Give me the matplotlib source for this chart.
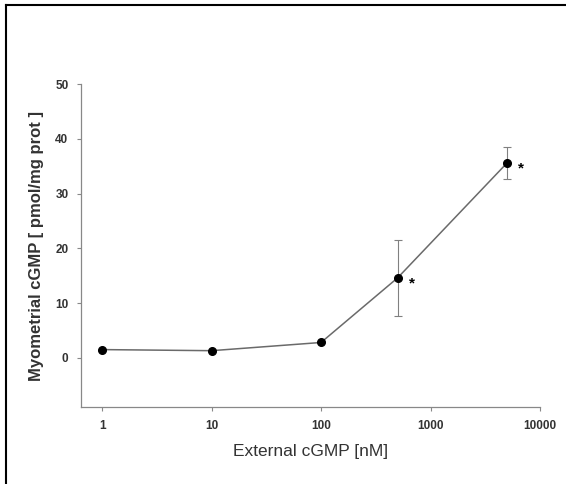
import matplotlib.pyplot as plt
from matplotlib.lines import Line2D

plt.rcParams['font.family'] = ['Liberation Sans', 'DejaVu Sans']

# data
conc = [1, 10, 100, 500, 5000]          # external cGMP [nM]
cgmp = [1.5, 1.3, 2.8, 14.6, 35.6]      # myometrial cGMP [pmol/mg prot]
err = [0, 0, 0, 7.0, 3.0]
signif = [False, False, False, True, True]
yticks = [0, 10, 20, 30, 40, 50]
xticks = [1, 10, 100, 1000, 10000]
xticklabels = ['1', '10', '100', '1000', '10000']

fig = plt.figure(figsize=(5.66, 4.84), dpi=100)
ax = fig.add_axes([0.143, 0.159, 0.811, 0.667])

ax.plot(conc, cgmp, color='#6a6a6a', lw=1.1, zorder=2)
ax.errorbar(conc, cgmp, yerr=err, fmt='none', ecolor='#808080', elinewidth=0.8,
            capsize=3, capthick=0.8, zorder=2)
ax.plot(conc, cgmp, 'o', color='black', ms=5.5, zorder=3)

for x, y, s in zip(conc, cgmp, signif):
    if s:
        ax.annotate('*', (x, y), xytext=(8, -4), textcoords='offset points',
                    fontsize=11, fontweight='bold', va='center', ha='left')

ax.set_xscale('log')
ax.set_xlim(0.64, 10000)
ax.set_ylim(-9, 50)
ax.set_xticks(xticks)
ax.set_xticklabels(xticklabels)
ax.minorticks_off()
ax.set_yticks(yticks)

for sp in ['top', 'right']:
    ax.spines[sp].set_visible(False)
for sp in ['left', 'bottom']:
    ax.spines[sp].set_color('#888888')
    ax.spines[sp].set_linewidth(0.9)
ax.tick_params(direction='out', length=3, width=0.8, color='#888888',
               labelsize=8.5, labelcolor='#333333')
ax.tick_params(axis='x', pad=6)
ax.tick_params(axis='y', pad=6)
for lab in ax.get_xticklabels() + ax.get_yticklabels():
    lab.set_fontweight('bold')

ax.set_xlabel('External cGMP [nM]', fontsize=12.5, color='#333333', labelpad=9)
ax.set_ylabel('Myometrial cGMP [ pmol/mg prot ]', fontsize=12, fontweight='bold',
              color='#333333', labelpad=8)

# frame lines of the cropped figure (top and left only)
fig.add_artist(Line2D([0.011, 1.0], [0.989, 0.989], transform=fig.transFigure,
                      color='black', lw=1.5))
fig.add_artist(Line2D([0.011, 0.011], [0.0, 0.989], transform=fig.transFigure,
                      color='black', lw=1.5))

fig.savefig('out.png', dpi=100)
